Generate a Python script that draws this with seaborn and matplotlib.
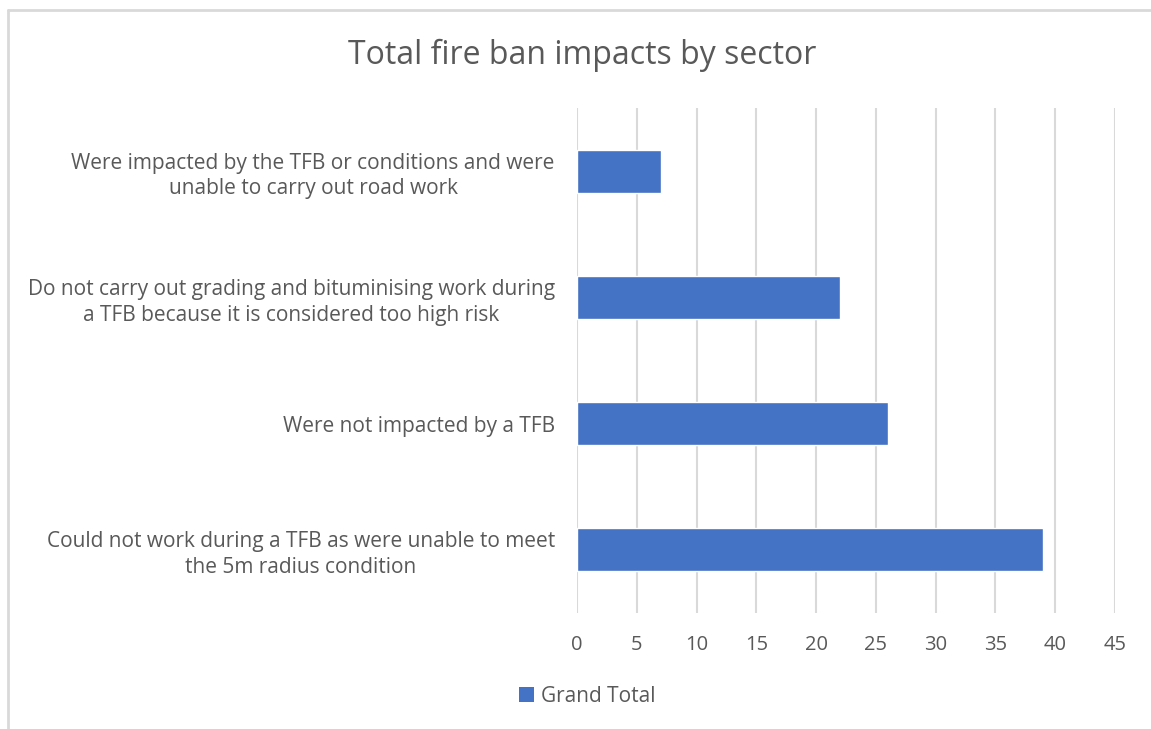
import numpy as np
import pandas as pd
import seaborn as sns
import matplotlib.pyplot as plt
from matplotlib.lines import Line2D
from matplotlib.patches import Patch

# data
categories = [
    "Were impacted by the TFB or conditions and were\nunable to carry out road work",
    "Do not carry out grading and bituminising work during\na TFB because it is considered too high risk",
    "Were not impacted by a TFB",
    "Could not work during a TFB as were unable to meet\nthe 5m radius condition",
]
values = [7, 22, 26, 39]
ticks = [0, 5, 10, 15, 20, 25, 30, 35, 40, 45]

df = pd.DataFrame({"sector": categories, "total": values})

sns.set_style("white")
plt.rcParams["font.family"] = ["Open Sans", "DejaVu Sans"]
grey = "#595959"

fig = plt.figure(figsize=(11.51, 7.29), dpi=100)
ax = fig.add_axes([0.5013, 0.1591, 0.4674, 0.6928])

sns.barplot(data=df, x="total", y="sector", color="#4472C4", width=0.34,
            saturation=1, ax=ax)

ax.set_xlim(0, 45)
ax.set_xticks(ticks)
ax.xaxis.grid(True, color="#d9d9d9", linewidth=1.5)
ax.set_axisbelow(True)
for s in ax.spines.values():
    s.set_visible(False)
ax.tick_params(axis="both", length=0, colors=grey)
ax.tick_params(axis="x", pad=16, labelsize=14.5)
ax.tick_params(axis="y", pad=16, labelsize=15)
for lab in ax.get_yticklabels():
    lab.set_multialignment("center")
    lab.set_linespacing(1.3)
ax.set_xlabel("")
ax.set_ylabel("")

fig.suptitle("Total fire ban impacts by sector", x=0.5056, y=1 - 55 / 729,
             va="center", fontsize=23, color=grey)

handles = [Patch(facecolor="#4472C4", edgecolor="none", label="Grand Total")]
fig.legend(handles=handles, loc="center", bbox_to_anchor=(0.51, 0.045),
           frameon=False, fontsize=15, labelcolor=grey, handlelength=0.75,
           handleheight=0.75, handletextpad=0.3)

# chart border (cut off at right and bottom)
fig.add_artist(Line2D([8 / 1151, 8 / 1151], [0, 1 - 10 / 729],
                      color="#d9d9d9", linewidth=2, transform=fig.transFigure))
fig.add_artist(Line2D([8 / 1151, 1], [1 - 10 / 729, 1 - 10 / 729],
                      color="#d9d9d9", linewidth=2, transform=fig.transFigure))

fig.savefig("out.png", dpi=100)
